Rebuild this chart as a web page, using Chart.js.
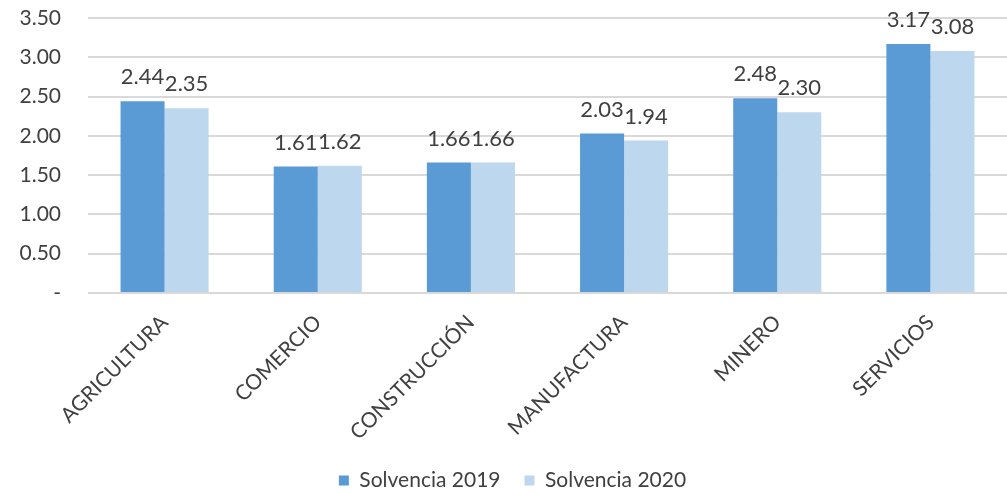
<!DOCTYPE html>
<html>
<head>
<meta charset="utf-8">
<script src="https://cdn.jsdelivr.net/npm/chart.js@4.4.0/dist/chart.umd.min.js"></script>
<style>
	html,body{margin:0;padding:0;background:#fff;}
	#wrap{width:1007px;height:493px;}
</style>
</head>
<body>
<div id="wrap"><canvas id="solvencia_chart" width="1007" height="493"></canvas></div>
<script>
// values
let sectores = ['AGRICULTURA','COMERCIO','CONSTRUCCIÓN','MANUFACTURA','MINERO','SERVICIOS'];
let solvencia_2019 = [2.44, 1.61, 1.66, 2.03, 2.48, 3.17];
let solvencia_2020 = [2.35, 1.62, 1.66, 1.94, 2.30, 3.08];
let y_ticks = [0, 0.5, 1, 1.5, 2, 2.5, 3, 3.5];

const FONT = 'Lato';

// labels on top of every bar, like excel "outside end"
let bar_labels = {
	id: 'bar_labels',
	afterDatasetsDraw: function(chart){
		let ctx = chart.ctx;
		ctx.save();
		ctx.font = `22px ${FONT}`;
		ctx.fillStyle = '#404040';
		ctx.textAlign = 'center';
		ctx.textBaseline = 'alphabetic';
		chart.data.datasets.forEach((ds, i)=>{
			chart.getDatasetMeta(i).data.forEach((bar, j)=>{
				ctx.fillText(ds.data[j].toFixed(2), bar.x, bar.y - 17);
			})
		})
		ctx.restore();
	}
}

// rotated labels would push the plot to the right, excel does not do that
function no_side_padding(scale){
	scale.paddingLeft = 0;
	scale.paddingRight = 0;
	if (scale._margins){ scale._margins.left = 0; scale._margins.right = 0; }
}

window.onload = () => {
	new Chart('solvencia_chart', {
		type: 'bar',
		data: {
			labels: sectores,
			datasets: [
				{ label: 'Solvencia 2019', data: solvencia_2019, backgroundColor: '#5B9BD5' },
				{ label: 'Solvencia 2020', data: solvencia_2020, backgroundColor: '#BDD7EE' }
			]
		},
		options: {
			responsive: false,
			animation: false,
			layout: { padding: { left: 18, top: 0, right: 0, bottom: -8 } },
			datasets: { bar: { categoryPercentage: 0.575, barPercentage: 1 } },
			scales: {
				y: {
					min: 0, max: 3.5,
					afterBuildTicks: (scale)=>{ scale.ticks = y_ticks.map(v=>({value:v})) },
					afterFit: (scale)=>{ scale.paddingTop = 18; scale.paddingBottom = 0; scale.width = 70 },
					border: { display: false },
					grid: { color: '#D9D9D9', lineWidth: 2, drawTicks: false },
					ticks: {
						padding: 27,
						color: '#404040',
						font: { family: FONT, size: 21 },
						callback: (v)=> v === 0 ? '-' : v.toFixed(2)
					}
				},
				x: {
					border: { display: false },
					grid: { display: false },
					afterFit: (scale)=>{ scale.height = 153; no_side_padding(scale) },
					ticks: {
						minRotation: 45, maxRotation: 45,
						padding: 9,
						color: '#404040',
						font: { family: FONT, size: 21 }
					}
				}
			},
			plugins: {
				legend: {
					position: 'bottom',
					labels: {
						boxWidth: 10, boxHeight: 10,
						padding: 24,
						color: '#404040',
						font: { family: FONT, size: 21 }
					}
				},
				tooltip: { enabled: false }
			}
		},
		plugins: [bar_labels]
	})
}
</script>
</body>
</html>
